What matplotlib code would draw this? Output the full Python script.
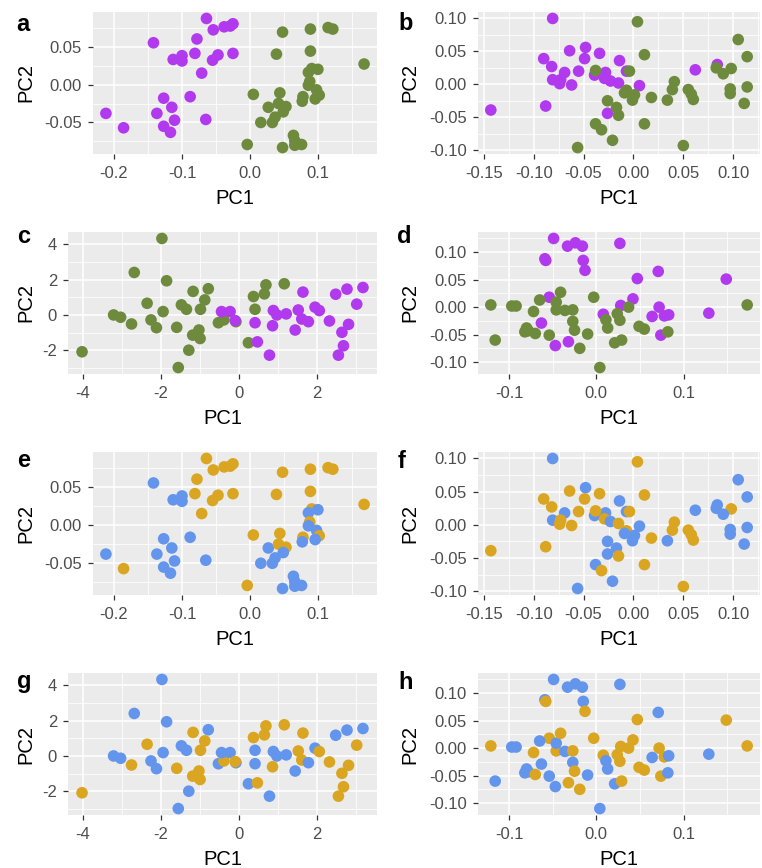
import matplotlib
matplotlib.use('Agg')
import matplotlib.pyplot as plt
from matplotlib.ticker import MultipleLocator, AutoMinorLocator, FormatStrFormatter

plt.rcParams['font.family'] = ['Liberation Sans', 'DejaVu Sans']
plt.rcParams['axes.unicode_minus'] = False

# ---- data set 1 (panels a / e) ----
a_x = [-0.064, -0.054, -0.038, -0.029, -0.025, -0.142, -0.078, -0.081, -0.100, -0.113,
       -0.100, -0.047, -0.055, -0.025, -0.071, -0.088, -0.127, -0.115, -0.137, -0.212,
       -0.111, -0.065, -0.127, -0.186, -0.117,
       0.048, 0.089, 0.115, 0.122, 0.089, 0.039, 0.168, 0.091, 0.100, 0.086,
       0.088, 0.086, 0.098, 0.102, 0.096, 0.078, 0.077, 0.005, 0.044, 0.027,
       0.042, 0.053, 0.049, 0.037, 0.016, 0.033, 0.064, 0.066, 0.066, 0.076,
       -0.004, 0.048]
a_y = [0.087, 0.072, 0.076, 0.077, 0.080, 0.055, 0.060, 0.041, 0.038, 0.033,
       0.031, 0.039, 0.032, 0.041, 0.015, -0.016, -0.018, -0.030, -0.038, -0.038,
       -0.047, -0.046, -0.055, -0.057, -0.063,
       0.069, 0.073, 0.075, 0.073, 0.044, 0.040, 0.027, 0.021, 0.020, 0.016,
       0.004, -0.001, -0.007, -0.014, -0.019, -0.016, -0.022, -0.013, -0.011, -0.030,
       -0.025, -0.029, -0.036, -0.043, -0.050, -0.050, -0.067, -0.074, -0.080, -0.079,
       -0.079, -0.083]
a_grp1 = 'PPPPPPPPPPPPPPPPPPPPPPPPP' + 'GGGGGGGGGGGGGGGGGGGGGGGGGGGGGGGG'
a_grp2 = 'OOOOOBOOBBBOOOOBBBBBBBBOB' + 'OOOOOOOOBBOBBOBOBOOBOOBBBBBBBBOB'

# ---- data set 2 (panels b / f) ----
b_x = [-0.081, -0.048, -0.064, -0.034, -0.090, -0.049, -0.082, -0.014, -0.069, -0.055,
       -0.039, -0.028, -0.007, -0.081, -0.073, -0.074, -0.062, -0.029, -0.023, -0.015,
       0.006, 0.062, 0.084, -0.143, -0.088, -0.026,
       0.004, 0.105, 0.011, 0.114, 0.083, 0.098, 0.090, -0.038, -0.004, 0.041,
       0.039, 0.055, 0.058, 0.060, 0.034, 0.114, 0.097, 0.097, 0.111, -0.007,
       -0.009, 0.001, -0.001, 0.018, -0.026, -0.017, -0.015, -0.038, 0.011, -0.032,
       -0.021, -0.056, 0.050]
b_y = [0.100, 0.056, 0.051, 0.047, 0.039, 0.039, 0.027, 0.036, 0.018, 0.020,
       0.014, 0.018, 0.020, 0.007, 0.007, 0.001, -0.001, 0.009, 0.005, 0.002,
       -0.002, 0.022, 0.030, -0.039, -0.033, -0.044,
       0.095, 0.068, 0.045, 0.042, 0.025, 0.024, 0.016, 0.021, 0.020, 0.004,
       -0.008, -0.008, -0.015, -0.023, -0.024, -0.004, -0.007, -0.014, -0.029, -0.009,
       -0.013, -0.016, -0.024, -0.020, -0.025, -0.035, -0.047, -0.060, -0.060, -0.069,
       -0.085, -0.096, -0.093]
b_grp1 = 'PPPPPPPPPPPPPPPPPPPPPPPPPP' + 'GGGGGGGGGGGGGGGGGGGGGGGGGGGGGGGGG'
b_grp2 = 'BBOOOOOBBOBBBBOOOOBOBBBOOB' + 'OBOBBOBOOOOOOOBBBBBOBBBOBBOBOOBBO'

# ---- data set 3 (panels c / g) ----
c_x = [-1.97, -2.68, -1.85, -1.17, -0.78, -0.87, -2.35, -1.47, -1.34, -0.98,
       -1.94, -3.21, -3.03, -2.75, -2.25, -2.11, -1.59, -1.02, -1.18, -0.99,
       -1.28, -1.55, -4.02, -0.52, -0.38, 0.38, 0.70, 0.66, 1.17, 0.42,
       0.25, -0.07,
       1.65, 2.49, 2.78, 3.19, 3.03, 1.96, 2.07, 1.53, 1.22, 0.89,
       0.98, 1.62, 1.79, 2.33, 2.82, 2.65, 2.69, 2.56, 1.45, 0.87,
       0.42, 0.48, 0.79, -0.44, -0.22, -0.09]
c_y = [4.32, 2.40, 1.93, 1.33, 1.48, 0.85, 0.66, 0.57, 0.32, 0.32,
       0.19, 0.00, -0.13, -0.51, -0.28, -0.72, -0.70, -0.85, -1.14, -1.33,
       -1.99, -2.97, -2.08, -0.44, -0.28, 1.04, 1.70, 1.19, 1.76, 0.32,
       -1.57, -0.38,
       1.29, 1.17, 1.46, 1.55, 0.61, 0.44, 0.25, 0.28, 0.06, 0.25,
       0.00, -0.23, -0.38, -0.34, -0.53, -0.98, -1.74, -2.27, -0.85, -0.61,
       -0.44, -1.52, -2.27, 0.19, 0.19, -0.32]
c_grp1 = 'GGGGGGGGGGGGGGGGGGGGGGGGGGGGGGGG' + 'PPPPPPPPPPPPPPPPPPPPPPPPPP'
c_grp2 = 'BBBOBOOBBOBBBOBBOOOOBBOBOOOOOBBB' + 'OBBBOBOOBBBOBOOOOOBOBOBBBO'

# ---- data set 4 (panels d / h) ----
d_x = [-0.049, -0.033, -0.024, -0.016, 0.027, -0.059, -0.058, -0.015, -0.013, 0.071,
       0.047, 0.149, 0.042, -0.054, 0.028, 0.072, 0.008, 0.064, 0.078, 0.083,
       0.129, -0.063, 0.074, -0.047, -0.032,
       -0.121, -0.097, -0.092, -0.116, -0.080, -0.078, -0.082, -0.070, -0.072, -0.065,
       -0.054, -0.046, -0.046, -0.041, -0.036, -0.027, -0.027, -0.025, -0.019, -0.010,
       -0.003, 0.004, 0.011, 0.013, 0.024, 0.027, 0.037, 0.021, 0.029, 0.049,
       0.055, 0.082, 0.173]
d_y = [0.125, 0.111, 0.117, 0.111, 0.116, 0.088, 0.085, 0.085, 0.067, 0.065,
       0.052, 0.051, 0.015, 0.018, 0.003, 0.000, -0.013, -0.017, -0.016, -0.014,
       -0.011, -0.029, -0.051, -0.070, -0.063,
       0.004, 0.002, 0.002, -0.060, -0.038, -0.043, -0.045, -0.048, -0.008, 0.013,
       -0.051, -0.005, 0.009, 0.027, -0.006, -0.005, -0.026, -0.042, -0.075, -0.049,
       0.018, -0.110, -0.023, -0.038, -0.012, -0.024, 0.000, -0.065, -0.060, -0.035,
       -0.040, -0.045, 0.004]
d_grp1 = 'PPPPPPPPPPPPPPPPPPPPPPPPP' + 'GGGGGGGGGGGGGGGGGGGGGGGGGGGGGGGGG'
d_grp2 = 'BBBBBBOBOBOOOOOOOBOBBBOBO' + 'OBBBBBBOOBBOBOBOBOOBOBBBOOOBOOOBO'

colours = {'P': '#B23AEE', 'G': '#6E8B3D', 'B': '#6495ED', 'O': '#DAA520'}

W, H = 762, 868

def px_axes(fig, left, top, right, bottom):
    return fig.add_axes([left / W, 1 - bottom / H, (right - left) / W, (bottom - top) / H])

def pcaplot(ax, x, y, grp, box, xstep, ystep, xfmt, yfmt, ylab_x):
    left, top, right, bottom = box
    ax.set_facecolor('#EBEBEB')
    ax.scatter(x, y, c=[colours[g] for g in grp], s=70, linewidths=0, zorder=3)
    ax.margins(0.05)
    ax.xaxis.set_major_locator(MultipleLocator(xstep))
    ax.yaxis.set_major_locator(MultipleLocator(ystep))
    ax.xaxis.set_minor_locator(AutoMinorLocator(2))
    ax.yaxis.set_minor_locator(AutoMinorLocator(2))
    ax.xaxis.set_major_formatter(FormatStrFormatter(xfmt))
    ax.yaxis.set_major_formatter(FormatStrFormatter(yfmt))
    ax.grid(which='major', color='white', linewidth=1.1)
    ax.grid(which='minor', color='white', linewidth=0.55)
    ax.set_axisbelow(True)
    for s in ax.spines.values():
        s.set_visible(False)
    ax.tick_params(which='major', length=3.6, width=0.9, color='#333333',
                   labelcolor='#4D4D4D', labelsize=12)
    ax.tick_params(axis='x', which='major', pad=4.8)
    ax.tick_params(axis='y', which='major', pad=4.3)
    ax.tick_params(which='minor', length=0)
    ax.set_xlabel('PC1', fontsize=14.5)
    ax.set_ylabel('PC2', fontsize=14.5)
    ax.xaxis.set_label_coords(0.5, -35.0 / (bottom - top))
    ax.yaxis.label.set_va('baseline')
    ax.yaxis.set_label_coords((ylab_x - left) / (right - left), 0.5)

fig = plt.figure(figsize=(W / 100, H / 100), dpi=100)

panels = [
    ('a', a_x, a_y, a_grp1, (93, 12, 377, 154), 0.1, 0.05, '%.1f', '%.2f', 31, 16, 31),
    ('b', b_x, b_y, b_grp1, (478, 12, 760, 154), 0.05, 0.05, '%.2f', '%.2f', 415, 398, 30),
    ('c', c_x, c_y, c_grp1, (68, 232, 377, 374), 2, 2, '%d', '%d', 31, 17, 243),
    ('d', d_x, d_y, d_grp1, (478, 232, 760, 374), 0.1, 0.05, '%.1f', '%.2f', 415, 397, 243),
    ('e', a_x, a_y, a_grp2, (93, 452, 377, 595), 0.1, 0.05, '%.1f', '%.2f', 31, 17, 467),
    ('f', b_x, b_y, b_grp2, (478, 452, 760, 595), 0.05, 0.05, '%.2f', '%.2f', 415, 398, 468),
    ('g', c_x, c_y, c_grp2, (68, 673, 377, 815), 2, 2, '%d', '%d', 31, 17, 688),
    ('h', d_x, d_y, d_grp2, (478, 673, 760, 815), 0.1, 0.05, '%.1f', '%.2f', 415, 398, 689),
]

for tag, x, y, grp, box, xs, ys, xf, yf, ylx, tx, ty in panels:
    ax = px_axes(fig, *box)
    pcaplot(ax, x, y, grp, box, xs, ys, xf, yf, ylx)
    fig.text(tx / W, 1 - ty / H, tag, fontsize=17, fontweight='bold', va='baseline')

plt.savefig('out.png', dpi=100)
plt.close()
